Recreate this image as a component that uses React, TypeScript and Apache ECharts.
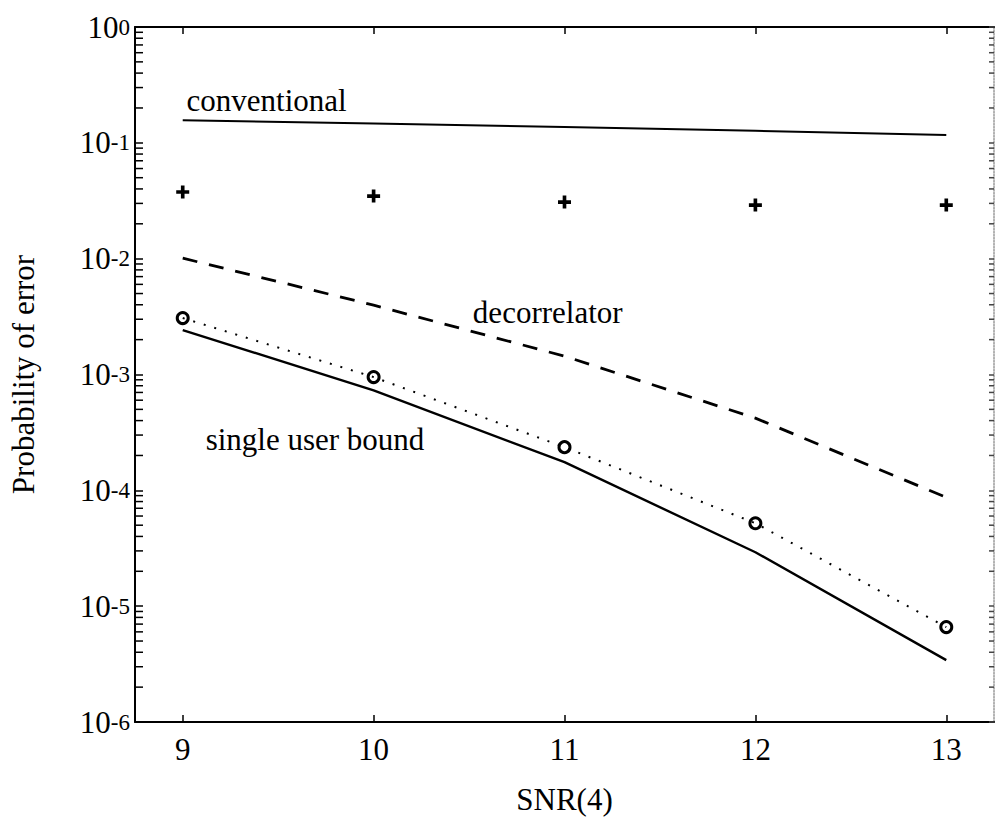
import React, { useEffect, useRef } from "react";
import * as echarts from "echarts";

// ---- data ----
const snr = [9, 10, 11, 12, 13];
const xTickValues = [9, 10, 11, 12, 13];
const conventional = [0.157, 0.147, 0.137, 0.127, 0.117];
const plusPoints = [0.0376, 0.0347, 0.0308, 0.029, 0.029];
const decorrelator = [1.01e-2, 3.97e-3, 1.44e-3, 4.2e-4, 8.7e-5];
const circlePoints = [3.07e-3, 9.5e-4, 2.36e-4, 5.2e-5, 6.6e-6];
const singleUserBound = [2.42e-3, 7.3e-4, 1.75e-4, 2.92e-5, 3.42e-6];
const yDecades = [-6, -5, -4, -3, -2, -1];
const minorMultipliers = [2, 3, 4, 5, 6, 7, 8, 9];
const annotationTexts = ["conventional", "decorrelator", "single user bound"];
const annotationX = [9.02, 10.52, 9.12];
const annotationY = [0.234, 3.46e-3, 2.72e-4];

const X_MIN = 8.75;
const X_MAX = 13.25;
const FONT = "Liberation Serif";
const FS = 31;

const pairs = (vals: number[]) => snr.map((x, i) => [x, vals[i]]);

export default function App() {
  const ref = useRef<HTMLDivElement>(null);
  useEffect(() => {
    const chart = echarts.init(ref.current!, null, { renderer: "svg" });
    const minorVals: number[][] = [];
    yDecades.forEach((d) =>
      minorMultipliers.forEach((m) => minorVals.push([X_MIN, m * Math.pow(10, d)]))
    );
    const option: any = {
      animation: false,
      backgroundColor: "#fff",
      textStyle: { fontFamily: FONT, color: "#000" },
      grid: { left: 135, right: 1, top: 27, bottom: 106, containLabel: false },
      xAxis: [
        {
          type: "value",
          position: "bottom",
          min: X_MIN,
          max: X_MAX,
          name: "SNR(4)",
          nameLocation: "middle",
          nameGap: 62,
          nameTextStyle: { fontFamily: FONT, fontSize: FS, color: "#000" },
          axisLine: { show: true, onZero: false, lineStyle: { color: "#000", width: 2 } },
          axisTick: { show: true, inside: true, length: 7, customValues: xTickValues, lineStyle: { color: "#000", width: 1.5 } },
          axisLabel: { show: true, customValues: xTickValues, margin: 12, fontFamily: FONT, fontSize: FS, color: "#000" },
          splitLine: { show: false },
        },
        {
          type: "value",
          position: "top",
          min: X_MIN,
          max: X_MAX,
          axisLine: { show: true, onZero: false, lineStyle: { color: "#000", width: 2 } },
          axisTick: { show: true, inside: true, length: 7, customValues: xTickValues, lineStyle: { color: "#000", width: 1.5 } },
          axisLabel: { show: false },
          splitLine: { show: false },
        },
      ],
      yAxis: [
        {
          type: "log",
          logBase: 10,
          position: "left",
          min: 1e-6,
          max: 1,
          name: "Probability of error",
          nameLocation: "middle",
          nameGap: 96,
          nameRotate: 90,
          nameTextStyle: { fontFamily: FONT, fontSize: FS, color: "#000" },
          axisLine: { show: true, onZero: false, lineStyle: { color: "#000", width: 2 } },
          axisTick: { show: true, inside: true, length: 8, lineStyle: { color: "#000", width: 1.5 } },
          axisLabel: {
            show: true,
            margin: 5,
            formatter: (v: number) => `{b|10}{e|${Math.round(Math.log10(v))}}`,
            rich: {
              b: { fontFamily: FONT, fontSize: FS, color: "#000", verticalAlign: "bottom" },
              e: { fontFamily: FONT, fontSize: 23, color: "#000", verticalAlign: "bottom", padding: [0, 0, 4, 0] },
            },
          },
          splitLine: { show: false },
        },
        {
          type: "log",
          logBase: 10,
          position: "right",
          min: 1e-6,
          max: 1,
          axisLine: { show: true, onZero: false, lineStyle: { color: "#999", width: 1.5, type: "dotted" } },
          axisTick: { show: true, inside: true, length: 5, lineStyle: { color: "#444", width: 1.5 } },
          axisLabel: { show: false },
          splitLine: { show: false },
        },
      ],
      series: [
        {
          type: "custom",
          name: "minorTicks",
          xAxisIndex: 0,
          yAxisIndex: 0,
          silent: true,
          clip: false,
          data: minorVals,
          renderItem: (params: any, api: any) => {
            const v = api.value(1);
            const pl = api.coord([X_MIN, v]);
            const pr = api.coord([X_MAX, v]);
            return {
              type: "group",
              children: [
                { type: "line", shape: { x1: pl[0], y1: pl[1], x2: pl[0] + 8, y2: pl[1] }, style: { stroke: "#000", lineWidth: 1.5 } },
                { type: "line", shape: { x1: pr[0], y1: pr[1], x2: pr[0] - 5, y2: pr[1] }, style: { stroke: "#444", lineWidth: 1.5 } },
              ],
            };
          },
        },
        {
          type: "line",
          name: "conventional",
          data: pairs(conventional),
          showSymbol: false,
          lineStyle: { color: "#000", width: 2 },
        },
        {
          type: "scatter",
          name: "plus",
          data: pairs(plusPoints),
          symbol: "path://M3.6,0H6.4V3.6H10V6.4H6.4V10H3.6V6.4H0V3.6H3.6Z",
          symbolSize: 13,
          itemStyle: { color: "#000", opacity: 1 },
        },
        {
          type: "line",
          name: "decorrelator",
          data: pairs(decorrelator),
          showSymbol: false,
          lineStyle: { color: "#000", width: 2.8, type: [15, 12] },
        },
        {
          type: "line",
          name: "simulated",
          data: pairs(circlePoints),
          showSymbol: false,
          lineStyle: { color: "#000", width: 2, type: [2, 9] },
        },
        {
          type: "scatter",
          name: "simulated points",
          data: pairs(circlePoints),
          symbol: "circle",
          symbolSize: 11,
          itemStyle: { color: "#fff", borderColor: "#000", borderWidth: 3, opacity: 1 },
        },
        {
          type: "line",
          name: "single user bound",
          data: pairs(singleUserBound),
          showSymbol: false,
          lineStyle: { color: "#000", width: 2.4 },
        },
      ],
    };
    chart.setOption(option);
    const graphic = annotationTexts.map((t, i) => {
      const p = chart.convertToPixel({ xAxisIndex: 0, yAxisIndex: 0 }, [annotationX[i], annotationY[i]]) as number[];
      return {
        type: "text",
        x: p[0],
        y: p[1],
        style: { text: t, fontFamily: FONT, fontSize: FS, fill: "#000", textVerticalAlign: "middle", verticalAlign: "middle" },
      };
    });
    chart.setOption({ graphic });
    return () => chart.dispose();
  }, []);
  return (
    <div
      ref={ref}
      style={{ position: "fixed", left: 0, top: 0, width: 995, height: 828, background: "#fff" }}
    />
  );
}
